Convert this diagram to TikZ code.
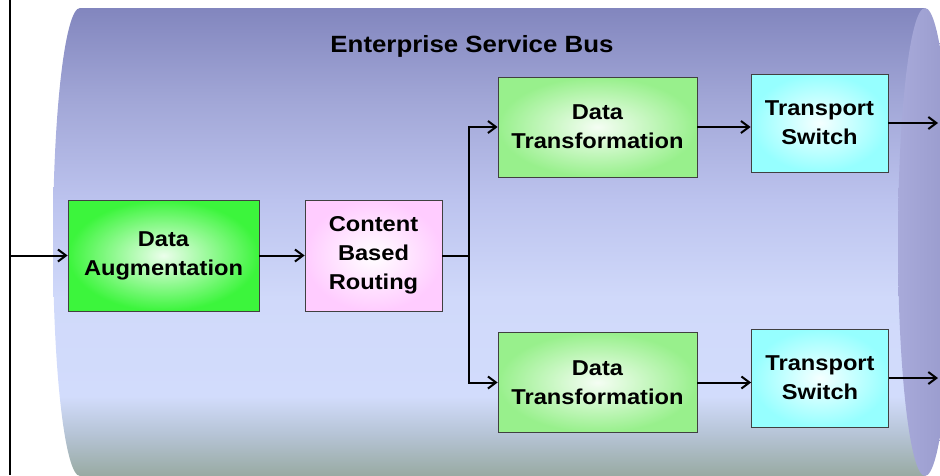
\documentclass[tikz,border=0pt]{standalone}
\usepackage{fontspec}
\setmainfont{Liberation Sans}[FakeStretch=1.1]
\usepackage{tikz}
\usetikzlibrary{arrows.meta}

\definecolor{bustop}{RGB}{130,134,190}
\definecolor{busupper}{RGB}{162,167,215}
\definecolor{busmid}{RGB}{188,195,238}
\definecolor{buslight}{RGB}{208,217,250}
\definecolor{buslow}{RGB}{210,220,252}
\definecolor{busgrey}{RGB}{182,196,214}
\definecolor{busbottom}{RGB}{152,170,162}
\definecolor{capleft}{RGB}{168,170,218}
\definecolor{capright}{RGB}{152,154,204}
\definecolor{augedge}{RGB}{60,245,60}
\definecolor{cbredge}{RGB}{255,204,255}
\definecolor{dtedge}{RGB}{152,240,140}
\definecolor{tsedge}{RGB}{150,255,255}

\pgfdeclareverticalshading{busshade}{100bp}{color(0bp)=(busbottom); color(25bp)=(busbottom); color(29.5bp)=(busgrey); color(33.5bp)=(buslow); color(44bp)=(buslight); color(54.5bp)=(busmid); color(65bp)=(busupper); color(75bp)=(bustop); color(100bp)=(bustop)}

\tikzset{
  stage/.style={draw=black!75, line width=0.8pt, inner sep=0pt, align=center,
    font=\fontsize{21.5}{29}\selectfont\bfseries, shading=radial},
  augbox/.style={stage, minimum width=191pt, minimum height=111pt, inner color=white!90!augedge, outer color=augedge},
  cbrbox/.style={stage, minimum width=137pt, minimum height=111pt, inner color=white, outer color=cbredge},
  dtbox/.style={stage, minimum width=199pt, minimum height=100pt, inner color=white!90!dtedge, outer color=dtedge},
  tsbox/.style={stage, minimum width=137pt, minimum height=98pt, inner color=white!90!tsedge, outer color=tsedge},
  flow/.style={line width=2pt, -{Straight Barb[length=8pt,width=12pt]}},
  plain/.style={line width=2pt}
}

\newcommand{\esbstage}[4] {\node at (#1) (#2) [#3] {#4};}
\newcommand{\esbflow}[2] {\draw [flow] (#1) -- (#2);}

\begin{document}
\begin{tikzpicture}[x=1pt, y=-1pt]

\useasboundingbox (0,0) rectangle (940,475);

% the bus
\shade [shading=busshade] (80,8) -- (925,8) -- (925,476) -- (80,476)
  arc [start angle=90, end angle=270, x radius=27, y radius=234] -- cycle;
\shade [left color=capleft, right color=capright] (925,242) ellipse [x radius=27, y radius=234];

\node at (472,52) (title) [anchor=base, font=\fontsize{23.5}{28}\selectfont\bfseries] {Enterprise Service Bus};

\esbstage {163.5,255.5}{aug}{augbox}{Data\\Augmentation}
\esbstage {373.5,255.5}{cbr}{cbrbox}{Content\\Based\\Routing}
\esbstage {597.5,127}{dtup}{dtbox}{Data\\Transformation}
\esbstage {819.5,123}{tsup}{tsbox}{Transport\\Switch}
\esbstage {597.5,382.5}{dtlo}{dtbox}{Data\\Transformation}
\esbstage {820,378}{tslo}{tsbox}{Transport\\Switch}

\coordinate (railtop) at (10,0);
\coordinate (railbot) at (10,475);
\coordinate (inlet) at (10,255.5);
\coordinate (split) at (469,255.5);
\coordinate (outup) at (938,123);
\coordinate (outlo) at (938,378);

\draw [plain] (railtop) -- (railbot);
\esbflow{inlet}{aug}
\esbflow{aug}{cbr}
\draw [plain] (cbr.east) -- (split);
\draw [flow] (split) |- (dtup.west);
\draw [flow] (split) |- (dtlo.west);
\esbflow{dtup}{dtup.east -| tsup.west}
\esbflow{dtlo}{dtlo.east -| tslo.west}
\esbflow{tsup}{outup}
\esbflow{tslo}{outlo}

\end{tikzpicture}
\end{document}
